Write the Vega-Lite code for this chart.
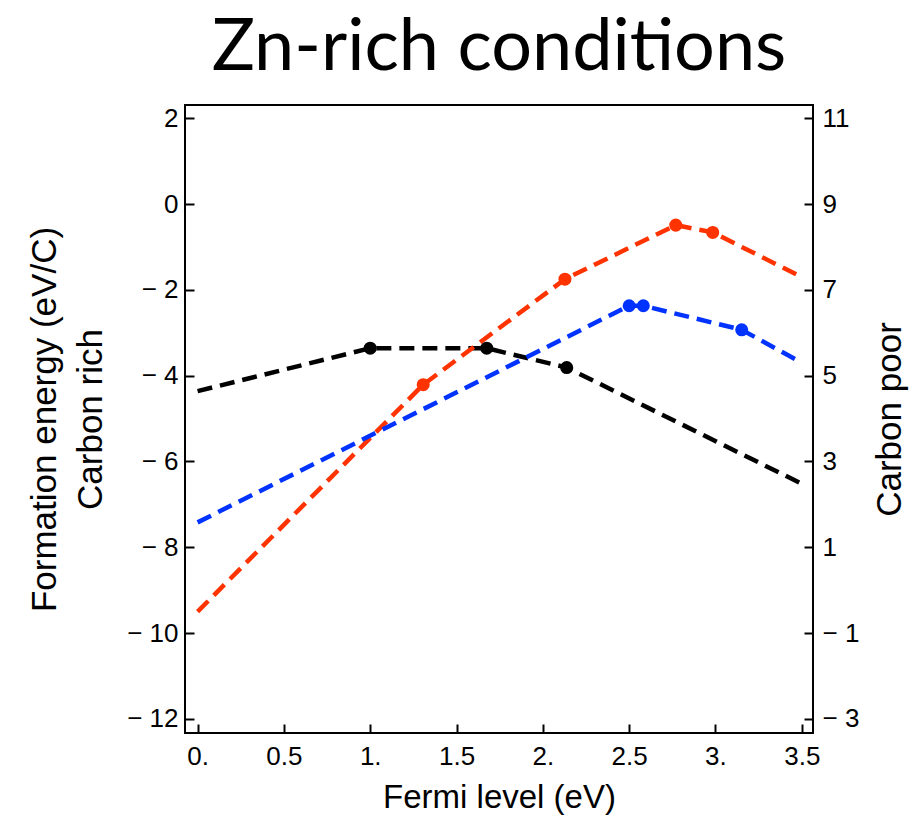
{
  "$schema": "https://vega.github.io/schema/vega-lite/v6.json",
  "width": 628,
  "height": 628,
  "autosize": {"type": "none"},
  "padding": {"left": 185, "top": 105, "right": 106, "bottom": 85},
  "background": "white",
  "title": {"text": "Zn-rich conditions", "font": "Lato", "fontSize": 72, "fontWeight": "normal", "anchor": "middle", "baseline": "alphabetic", "offset": -37, "color": "black"},
  "config": {"view": {"stroke": "black", "strokeWidth": 2}},
  "data": {"values": [
    {"series": "black", "fermi": 0.0, "energy": -4.36, "marker": false},
    {"series": "black", "fermi": 1.0, "energy": -3.36, "marker": true},
    {"series": "black", "fermi": 1.675, "energy": -3.36, "marker": true},
    {"series": "black", "fermi": 2.138, "energy": -3.81, "marker": true},
    {"series": "black", "fermi": 3.5, "energy": -6.52, "marker": false},
    {"series": "red", "fermi": 0.0, "energy": -9.5, "marker": false},
    {"series": "red", "fermi": 1.307, "energy": -4.21, "marker": true},
    {"series": "red", "fermi": 2.128, "energy": -1.75, "marker": true},
    {"series": "red", "fermi": 2.77, "energy": -0.49, "marker": true},
    {"series": "red", "fermi": 2.984, "energy": -0.66, "marker": true},
    {"series": "red", "fermi": 3.5, "energy": -1.7, "marker": false},
    {"series": "blue", "fermi": 0.0, "energy": -7.42, "marker": false},
    {"series": "blue", "fermi": 2.5, "energy": -2.37, "marker": true},
    {"series": "blue", "fermi": 2.582, "energy": -2.37, "marker": true},
    {"series": "blue", "fermi": 3.152, "energy": -2.93, "marker": true},
    {"series": "blue", "fermi": 3.5, "energy": -3.7, "marker": false}
  ]},
  "resolve": {"axis": {"y": "independent"}},
  "layer": [
    {
      "mark": {"type": "line", "strokeWidth": 4.5, "strokeDash": [15, 8]},
      "encoding": {
        "x": {"field": "fermi", "type": "quantitative",
          "scale": {"domain": [-0.073, 3.565], "nice": false, "zero": false},
          "axis": {"values": [0, 0.5, 1, 1.5, 2, 2.5, 3, 3.5],
            "labelExpr": "datum.value % 1 == 0 ? datum.value + '.' : '' + datum.value",
            "domain": false, "grid": false, "tickSize": -9, "tickWidth": 2, "tickColor": "black",
            "labelFont": "Liberation Sans", "labelFontSize": 26, "labelColor": "black", "labelPadding": 19,
            "labelFlush": false,
            "title": "Fermi level (eV)", "titleFont": "Liberation Sans", "titleFontSize": 33, "titleFontWeight": "normal", "titleColor": "black", "titlePadding": 12}},
        "y": {"field": "energy", "type": "quantitative",
          "scale": {"domain": [-12.33, 2.31], "nice": false, "zero": false},
          "axis": {"values": [-12, -10, -8, -6, -4, -2, 0, 2],
            "labelExpr": "datum.value < 0 ? '\u2212 ' + abs(datum.value) : '' + datum.value",
            "domain": false, "grid": false, "tickSize": -9, "tickWidth": 2, "tickColor": "black",
            "labelFont": "Liberation Sans", "labelFontSize": 26, "labelColor": "black", "labelPadding": 16,
            "labelFlush": false,
            "title": ["Formation energy (eV/C)", "Carbon rich"], "titleFont": "Liberation Sans", "titleFontSize": 35, "titleFontWeight": "normal", "titleColor": "black", "titleLineHeight": 46, "titlePadding": 18}},
        "color": {"field": "series", "type": "nominal",
          "scale": {"domain": ["black", "red", "blue"], "range": ["#000000", "#ff3300", "#0033ff"]},
          "legend": null}
      }
    },
    {
      "transform": [{"filter": "datum.marker"}],
      "mark": {"type": "point", "filled": true, "size": 170, "opacity": 1},
      "encoding": {
        "x": {"field": "fermi", "type": "quantitative",
          "scale": {"domain": [-0.073, 3.565], "nice": false, "zero": false}},
        "y": {"field": "energy", "type": "quantitative",
          "scale": {"domain": [-12.33, 2.31], "nice": false, "zero": false},
          "axis": {"orient": "right", "values": [-12, -10, -8, -6, -4, -2, 0, 2],
            "labelExpr": "datum.value + 9 < 0 ? '\u2212 ' + abs(datum.value + 9) : '' + (datum.value + 9)",
            "domain": false, "grid": false, "tickSize": -9, "tickWidth": 2, "tickColor": "black",
            "labelFont": "Liberation Sans", "labelFontSize": 26, "labelColor": "black", "labelPadding": 18,
            "labelFlush": false,
            "title": "Carbon poor", "titleFont": "Liberation Sans", "titleFontSize": 35, "titleFontWeight": "normal", "titleColor": "black", "titleAngle": 270, "titleBaseline": "top", "titlePadding": 14}},
        "color": {"field": "series", "type": "nominal",
          "scale": {"domain": ["black", "red", "blue"], "range": ["#000000", "#ff3300", "#0033ff"]},
          "legend": null}
      }
    }
  ]
}
